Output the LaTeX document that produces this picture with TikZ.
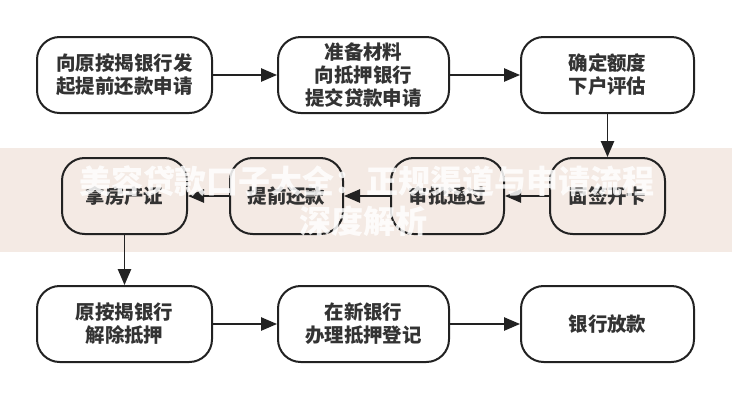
\documentclass[tikz,border=0pt]{standalone}
\usepackage{fontspec}
\setmainfont{Noto Sans CJK SC}
\usetikzlibrary{arrows.meta}
\definecolor{ink}{HTML}{222222}
\definecolor{txt}{HTML}{333333}
\definecolor{band}{HTML}{F4EAE4}
\begin{document}
\begin{tikzpicture}[x=0.75pt,y=-0.75pt,
  box/.style={draw=ink,line width=1.5pt,rounded corners=17pt,
    minimum height=57pt,inner sep=0pt,align=center,
    font=\fontsize{14.6}{17.25}\selectfont\bfseries,text=txt},
  conn/.style={draw=ink,line width=1.1pt,-{Triangle[length=12pt,width=10pt]}},
  bandtext/.style={text=white,opacity=0.85,inner sep=0pt,
    font=\fontsize{24}{30}\selectfont\bfseries}]
\useasboundingbox (0,0) rectangle (732,400);
\fill[white] (0,0) rectangle (732,400);
% overlay band
\fill[band] (0,148) rectangle (732,252);
% row 1
\node[box,minimum width=131.25pt] (a1) at (124.5,75) {向原按揭银行发\\起提前还款申请};
\node[box,minimum width=128.25pt] (a2) at (363.5,75) {准备材料\\向抵押银行\\提交贷款申请};
\node[box,minimum width=129.75pt] (a3) at (607.5,75) {确定额度\\下户评估};
% row 2
\node[box,minimum width=86.25pt] (b4) at (607.5,196) {面签开卡};
\node[box,minimum width=84.75pt] (b3) at (447.5,196) {审批通过};
\node[box,minimum width=84.75pt] (b2) at (286.5,196) {提前还款};
\node[box,minimum width=93.75pt] (b1) at (124.5,196) {拿房产证};
% row 3
\node[box,minimum width=131.25pt] (c1) at (124.5,324) {原按揭银行\\解除抵押};
\node[box,minimum width=128.25pt] (c2) at (363.5,324) {在新银行\\办理抵押登记};
\node[box,minimum width=129.75pt] (c3) at (607.5,324) {银行放款};
% connectors
\draw[conn] (a1) -- (a2);
\draw[conn] (a2) -- (a3);
\draw[conn] (a3) -- (b4);
\draw[conn] (b4) -- (b3);
\draw[conn] (b3) -- (b2);
\draw[conn] (b2) -- (b1);
\draw[conn] (b1) -- (c1);
\draw[conn] (c1) -- (c2);
\draw[conn] (c2) -- (c3);
% overlay title text
\node[bandtext] (t1) at (367,181) {美容贷款口子大全：正规渠道与申请流程};
\node[bandtext] (t2) at (363,221) {深度解析};
\end{tikzpicture}
\end{document}
